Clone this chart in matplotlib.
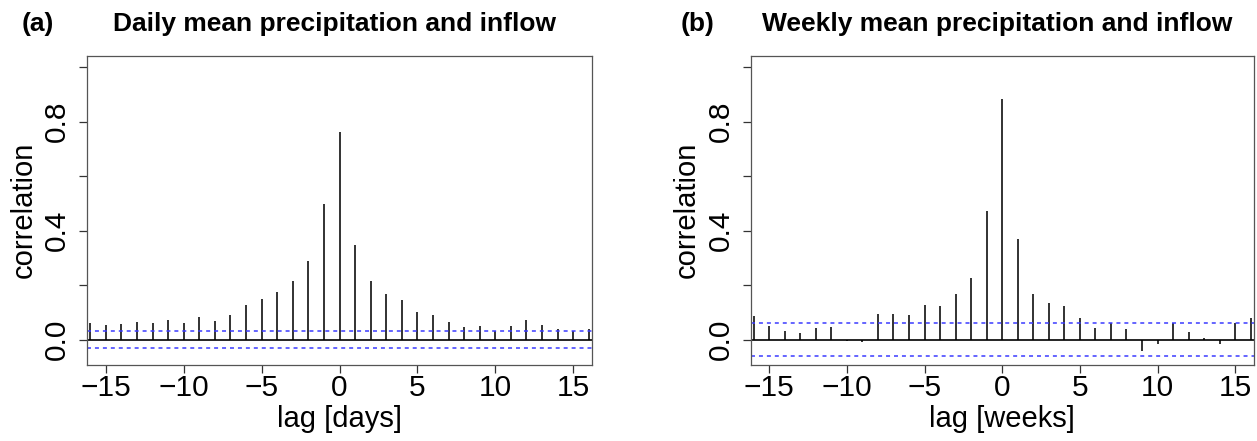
import numpy as np
import matplotlib
matplotlib.use("Agg")
import matplotlib.pyplot as plt

plt.rcParams['font.family'] = ['Liberation Sans', 'DejaVu Sans']

# cross-correlation values
lags = list(range(-16, 17))
daily_ccf = [0.060, 0.055, 0.059, 0.066, 0.060, 0.073, 0.060, 0.083, 0.068, 0.091,
             0.128, 0.149, 0.176, 0.217, 0.288, 0.496, 0.761, 0.346, 0.215, 0.166,
             0.146, 0.102, 0.089, 0.065, 0.046, 0.051, 0.032, 0.051, 0.072, 0.052,
             0.040, 0.030, 0.038]
weekly_ccf = [0.087, 0.050, 0.032, 0.023, 0.044, 0.048, -0.005, -0.010, 0.093, 0.094,
              0.091, 0.127, 0.124, 0.168, 0.228, 0.471, 0.882, 0.370, 0.168, 0.135,
              0.123, 0.080, 0.043, 0.062, 0.038, -0.042, -0.016, 0.062, 0.027, 0.006,
              -0.016, 0.062, 0.080]
daily_ci = 0.031
weekly_ci = 0.061

panels = [
    ("(a)", "Daily mean precipitation and inflow", "lag [days]", daily_ccf, daily_ci),
    ("(b)", "Weekly mean precipitation and inflow", "lag [weeks]", weekly_ccf, weekly_ci),
]
xticks = [-15, -10, -5, 0, 5, 10, 15]
yticks = [0.0, 0.2, 0.4, 0.6, 0.8, 1.0]
ytick_labels = ["0.0", "", "0.4", "", "0.8", ""]

W, H = 1257, 441
fig = plt.figure(figsize=(W / 100, H / 100), dpi=100)

# axes boxes in pixels: left, right, top, bottom
boxes = [(87.3, 591.7, 55.7, 364.7), (750.7, 1253.7, 55.7, 364.7)]
tag_x = [22, 681]

for (tag, title, xlab, vals, ci), (l, r, t, b), tx in zip(panels, boxes, tag_x):
    ax = fig.add_axes([l / W, (H - b) / H, (r - l) / W, (b - t) / H])
    ax.vlines(lags, 0, vals, color='#222222', lw=1.3)
    ax.axhline(0, color='black', lw=1.2)
    for c in (ci, -ci):
        ax.axhline(c, color='#3a3aff', lw=1.1, ls=(0, (2.6, 2.6)))
    ax.set_xlim(-16.19, 16.19)
    ax.set_ylim(-0.092, 1.042)
    ax.set_xticks(xticks)
    ax.set_yticks(yticks)
    ax.set_yticklabels(ytick_labels, rotation=90, va='center')
    ax.tick_params(direction='out', length=5.5, width=0.9, labelsize=21.5, color='#333333')
    ax.tick_params(axis='x', pad=1)
    ax.tick_params(axis='y', pad=6)
    for s in ax.spines.values():
        s.set_color('#555555')
        s.set_linewidth(0.9)
    ax.set_xlabel(xlab, fontsize=21, labelpad=2)
    ax.set_ylabel("correlation", fontsize=21, labelpad=4)

    cx = (l + r) / 2 - 5
    fig.text(cx / W, 1 - 24 / H, title, fontsize=19, fontweight='bold',
             ha='center', va='center')
    fig.text(tx / W, 1 - 24 / H, tag, fontsize=19, fontweight='bold',
             ha='left', va='center')

fig.savefig("out.png", dpi=100)
